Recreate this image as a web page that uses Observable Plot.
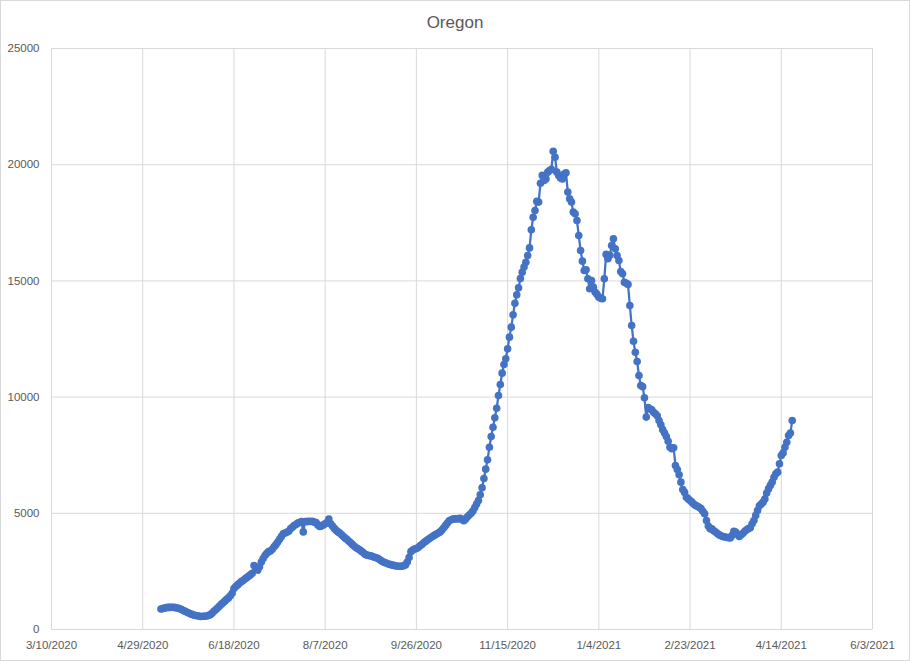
<!DOCTYPE html>
<html><head><meta charset="utf-8">
<script src="https://cdn.jsdelivr.net/npm/d3@7"></script>
<script src="https://cdn.jsdelivr.net/npm/@observablehq/plot@0.6"></script>
<style>
body{margin:0;background:#fff;}
#wrap{position:relative;width:910px;height:661px;font-family:"Liberation Sans",Arial,sans-serif;background:#fff;}
#title{position:absolute;top:13px;left:0;width:910px;text-align:center;font-size:17px;color:#595959;}
#border{position:absolute;left:0;top:0;width:910px;height:661px;box-sizing:border-box;border:1px solid #d9d9d9;pointer-events:none;}
#chart{position:absolute;left:0;top:0;}
</style></head>
<body><div id="wrap"><div id="chart"></div><div id="title">Oregon</div><div id="border"></div></div>
<script>
const title = "Oregon";
const startDate = "2020-05-09"; // first daily value
const values = [
  // May 9 - Jun 17, 2020
  880, 900, 920, 940, 950, 950, 960, 950, 940, 920,
  900, 870, 830, 790, 750, 720, 680, 650, 620, 600,
  590, 570, 560, 570, 570, 580, 600, 640, 700, 780,
  850, 920, 1000, 1080, 1150, 1220, 1300, 1360, 1450, 1560,
  // Jun 18 - Jul 31
  1760, 1850, 1920, 1990, 2060, 2110, 2170, 2230, 2290, 2350,
  2420, 2750, 2600, 2550, 2700, 2900, 3050, 3180, 3280, 3350,
  3380, 3450, 3560, 3650, 3760, 3880, 4000, 4120, 4150, 4180,
  4230, 4330, 4400, 4470, 4520, 4580, 4600, 4650, 4200, 4650,
  4640, 4660, 4650, 4660,
  // Aug 1 - Oct 1
  4620, 4600, 4500, 4430, 4450, 4500, 4550, 4600, 4750, 4550,
  4450, 4350, 4270, 4200, 4150, 4080, 4000, 3930, 3870, 3800,
  3730, 3650, 3580, 3520, 3470, 3420, 3360, 3300, 3230, 3200,
  3180, 3170, 3140, 3110, 3090, 3050, 3000, 2950, 2900, 2870,
  2840, 2810, 2790, 2770, 2750, 2730, 2720, 2720, 2720, 2740,
  2780, 2900, 3100, 3350, 3420, 3460, 3480, 3530, 3600, 3660,
  3730, 3790,
  // Oct 2 - Oct 31
  3850, 3900, 3960, 4010, 4060, 4110, 4150, 4200, 4280, 4380,
  4480, 4580, 4680, 4720, 4750, 4760, 4760, 4770, 4780, 4730,
  4680, 4760, 4850, 4930, 5000, 5100, 5250, 5400, 5550, 5800,
  // Nov 1 - Nov 21
  6100, 6500, 6900, 7300, 7840, 8300, 8700, 9110, 9520, 10070,
  10540, 11030, 11400, 11650, 12080, 12580, 13010, 13540, 14040, 14400,
  14700,
  // Nov 22 - Jan 29, 2021
  15100, 15370, 15600, 15800, 16090, 16420, 17200, 17740, 18030, 18420,
  18390, 19200, 19540, 19320, 19390, 19680, 19750, 19800, 20580, 20320,
  19680, 19540, 19430, 19390, 19600, 19650, 18820, 18530, 18390, 17960,
  17890, 17600, 16950, 16310, 15850, 15450, 15480, 15090, 14660, 15020,
  14730, 14510, 14420, 14300, 14250, 14230, 15090, 16140, 15950, 16100,
  16520, 16810, 16380, 16090, 15880, 15400, 15310, 14940, 14900, 14850,
  13940, 13080, 12400, 11930, 11530, 10930, 10500, 10450, 9970,
  // Jan 30 - Apr 20, 2021
  9140, 9550, 9500, 9450, 9350, 9280, 9200, 8990, 8810, 8600,
  8450, 8300, 8100, 7840, 7780, 7820, 7060, 6880, 6660, 6340,
  6020, 5900, 5690, 5620, 5550, 5480, 5400, 5340, 5300, 5260,
  5200, 5090, 4980, 4690, 4450, 4330, 4330, 4250, 4190, 4130,
  4070, 4030, 4000, 3980, 3970, 3950, 3940, 4040, 4230, 4190,
  4100, 4000, 4080, 4140, 4230, 4290, 4340, 4380, 4550, 4690,
  4910, 5120, 5320, 5400, 5480, 5620, 5870, 6050, 6200, 6340,
  6550, 6700, 6770, 7130, 7490, 7600, 7840, 8060, 8350, 8450,
  8990
];
const xTickLabels = ["3/10/2020", "4/29/2020", "6/18/2020", "8/7/2020", "9/26/2020",
  "11/15/2020", "1/4/2021", "2/23/2021", "4/14/2021", "6/3/2021"];
const yTicks = [0, 5000, 10000, 15000, 20000, 25000];

const parseMDY = d3.utcParse("%m/%d/%Y");
const xTicks = xTickLabels.map(parseMDY);
const start = d3.utcParse("%Y-%m-%d")(startDate);
const data = values.map((v, i) => ({date: d3.utcDay.offset(start, i), value: v}));
const fmt = d => `${d.getUTCMonth() + 1}/${d.getUTCDate()}/${d.getUTCFullYear()}`;

const plot = Plot.plot({
  width: 910, height: 661,
  marginLeft: 51, marginRight: 38, marginTop: 48, marginBottom: 32,
  style: {background: "transparent", fontFamily: "'Liberation Sans', Arial, sans-serif", fontSize: "11.5px", color: "#595959", overflow: "visible"},
  x: {type: "utc", domain: [xTicks[0], xTicks[xTicks.length - 1]]},
  y: {domain: [0, 25000]},
  marks: [
    Plot.ruleX(xTicks, {stroke: "#d9d9d9", strokeWidth: 1}),
    Plot.ruleY(yTicks, {stroke: "#d9d9d9", strokeWidth: 1}),
    Plot.axisX(xTicks, {tickSize: 0, tickPadding: 11, tickFormat: fmt, fill: "#595959", label: null}),
    Plot.axisY(yTicks, {tickSize: 0, tickPadding: 12, tickFormat: d => String(d), fill: "#595959", label: null}),
    Plot.line(data, {x: "date", y: "value", stroke: "#4472C4", strokeWidth: 2.25}),
    Plot.dot(data, {x: "date", y: "value", r: 3.8, fill: "#4472C4", stroke: "none"})
  ]
});
document.getElementById("chart").appendChild(plot);
document.getElementById("title").textContent = title;
</script>
</body></html>
